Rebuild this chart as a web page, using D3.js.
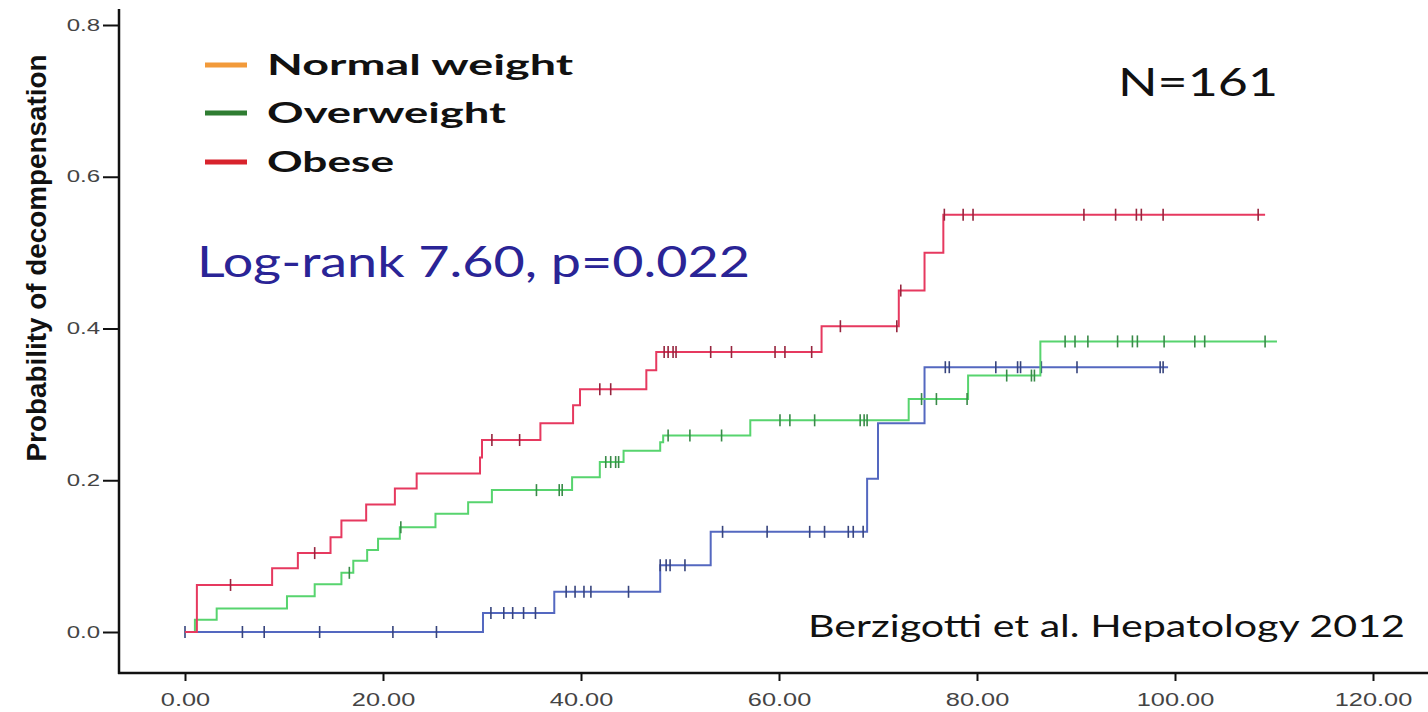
<!DOCTYPE html>
<html>
<head>
<script src="https://d3js.org/d3.v7.min.js"></script>
<style>
  body { margin: 0; background: #fff; }
  svg { display: block; }
  .tick text { font-family: "Liberation Sans", Arial, sans-serif; fill: #444; }
  .anno { font-family: Lato, "Open Sans", sans-serif; }
</style>
</head>
<body>
<svg id="chart" width="1428" height="712"></svg>
<script>
// Normal weight (drawn blue in the plot)
const normalSteps = [[0, 0], [30.1, 0.025], [37.3, 0.053], [48.0, 0.088], [53.1, 0.132], [68.9, 0.202], [70.0, 0.275], [74.7, 0.349]];
const normalEnd = 99.3;
const normalCensor = [0, 5.8, 8.0, 13.6, 21.0, 25.4, 30.9, 32.2, 33.1, 34.2, 35.4, 38.5, 39.4, 40.3, 41.0, 44.8, 48.0, 48.6, 49.0, 50.5,
  54.3, 58.8, 63.1, 64.6, 67.0, 67.5, 68.5, 76.8, 77.2, 81.9, 84.1, 84.4, 86.5, 90.1, 98.5, 98.8];

// Overweight (drawn light green)
const overSteps = [[0, 0], [1.0, 0.016], [3.2, 0.031], [10.3, 0.047], [13.1, 0.063], [15.8, 0.078], [17.0, 0.094], [18.4, 0.108],
  [19.5, 0.123], [21.7, 0.138], [25.3, 0.156], [28.6, 0.171], [31.0, 0.187], [39.1, 0.204], [41.9, 0.224], [44.3, 0.239],
  [48.0, 0.25], [48.3, 0.259], [57.1, 0.279], [73.1, 0.307], [79.1, 0.338], [86.4, 0.383]];
const overEnd = 110.3;
const overCensor = [16.6, 21.8, 35.5, 37.8, 38.1, 42.5, 43.0, 43.5, 43.8, 48.8, 51.0, 54.2, 60.1, 61.1, 63.6, 68.2, 68.6, 68.9,
  74.4, 75.9, 79.0, 83.0, 85.5, 85.8, 88.9, 89.9, 91.2, 94.2, 95.7, 96.2, 98.9, 102.0, 103.0, 109.1];

// Obese (drawn pink-red)
const obeseSteps = [[0, 0], [1.2, 0.062], [8.8, 0.084], [11.4, 0.104], [14.7, 0.125], [15.8, 0.147], [18.3, 0.168], [21.2, 0.189],
  [23.4, 0.209], [29.8, 0.23], [30.0, 0.253], [35.9, 0.275], [39.2, 0.299], [39.9, 0.320], [46.6, 0.345], [47.6, 0.369],
  [64.3, 0.403], [72.1, 0.45], [74.7, 0.50], [76.6, 0.55]];
const obeseEnd = 109.1;
const obeseCensor = [4.6, 13.1, 31.0, 33.8, 41.9, 43.0, 48.4, 48.8, 49.3, 49.6, 53.1, 55.2, 59.6, 60.6, 63.3, 66.2, 71.9, 72.3,
  76.7, 78.6, 79.6, 90.8, 94.0, 96.1, 96.6, 98.8, 108.4];

const xTicks = [0, 20, 40, 60, 80, 100, 120];
const yTicks = [0, 0.2, 0.4, 0.6, 0.8];
const legendLabels = ['Normal weight', 'Overweight', 'Obese'];
const legendColors = ['#f29a3a', '#2f7d32', '#d8232c'];

const svg = d3.select('#chart');
const x = d3.scaleLinear().domain([0, 120]).range([185, 1373]);
const y = d3.scaleLinear().domain([0, 0.8]).range([632, 25]);

const groups = [
  { steps: normalSteps, end: normalEnd, censor: normalCensor, color: '#5468c0' },
  { steps: overSteps, end: overEnd, censor: overCensor, color: '#57d46e' },
  { steps: obeseSteps, end: obeseEnd, censor: obeseCensor, color: '#e6395f' }
];

function valueAt(steps, t) {
  let v = 0;
  for (const s of steps) if (s[0] <= t) v = s[1];
  return v;
}

// the original picture is stretched sideways, so widen text to match
function widen(sel, factor) {
  sel.each(function () {
    const w = this.getComputedTextLength();
    d3.select(this).attr('textLength', w * factor).attr('lengthAdjust', 'spacingAndGlyphs');
  });
}
function fitWidth(sel, width) {
  sel.attr('textLength', width).attr('lengthAdjust', 'spacingAndGlyphs');
}

// axes
const yAxis = svg.append('g').attr('transform', 'translate(119,0)')
  .call(d3.axisLeft(y).tickValues(yTicks).tickFormat(d3.format('.1f')).tickSize(16).tickPadding(3).tickSizeOuter(0));
yAxis.select('.domain').remove();
yAxis.selectAll('.tick line').attr('stroke', '#111').attr('stroke-width', 2);
yAxis.selectAll('.tick text').style('font-size', '16px').call(widen, 1.5);

const xAxis = svg.append('g').attr('transform', 'translate(0,673)')
  .call(d3.axisBottom(x).tickValues(xTicks).tickFormat(d3.format('.2f')).tickSize(8).tickPadding(12).tickSizeOuter(0));
xAxis.select('.domain').remove();
xAxis.selectAll('.tick line').attr('stroke', '#111').attr('stroke-width', 2);
xAxis.selectAll('.tick text').style('font-size', '18.5px').call(widen, 1.37);

svg.append('line').attr('x1', 119).attr('x2', 119).attr('y1', 9).attr('y2', 674)
  .attr('stroke', '#111').attr('stroke-width', 2.5);
svg.append('line').attr('x1', 118).attr('x2', 1428).attr('y1', 673).attr('y2', 673)
  .attr('stroke', '#111').attr('stroke-width', 2.5);

svg.append('text')
  .attr('transform', 'translate(46,258) rotate(-90)')
  .attr('text-anchor', 'middle')
  .style('font-family', '"Liberation Sans Narrow", "Liberation Sans", Arial, sans-serif')
  .style('font-weight', 'bold')
  .style('font-size', '27px')
  .attr('fill', '#111')
  .text('Probability of decompensation')
  .call(fitWidth, 407);

// survival step curves
groups.forEach(g => {
  const pts = g.steps.concat([[g.end, g.steps[g.steps.length - 1][1]]]);
  const line = d3.line().x(d => x(d[0])).y(d => y(d[1])).curve(d3.curveStepAfter);
  svg.append('path').datum(pts)
    .attr('fill', 'none')
    .attr('stroke', g.color)
    .attr('stroke-width', 2)
    .attr('d', line);

  svg.selectAll(null).data(g.censor).join('line')
    .attr('x1', d => x(d)).attr('x2', d => x(d))
    .attr('y1', d => y(valueAt(g.steps, d)) - 6)
    .attr('y2', d => y(valueAt(g.steps, d)) + 6)
    .attr('stroke', d3.color(g.color).darker(1.2))
    .attr('stroke-width', 1.6);
});

// legend
const legendWidths = [306, 239, 127];
const legendBase = [75, 123, 172];
const legend = svg.append('g');
legendLabels.forEach((lab, i) => {
  const ly = legendBase[i] - 10;
  legend.append('line').attr('x1', 205).attr('x2', 247).attr('y1', ly).attr('y2', ly)
    .attr('stroke', legendColors[i]).attr('stroke-width', 5);
  legend.append('text').attr('class', 'anno').attr('x', 267).attr('y', legendBase[i])
    .style('font-size', '29px').style('font-weight', 'bold').attr('fill', '#111').text(lab)
    .call(fitWidth, legendWidths[i]);
});

svg.append('text').attr('class', 'anno').attr('x', 1118).attr('y', 96)
  .style('font-size', '38px').attr('fill', '#111').text('N=161')
  .call(fitWidth, 160);

svg.append('text').attr('class', 'anno').attr('x', 197).attr('y', 277)
  .style('font-size', '42px').attr('fill', '#2a2496').text('Log-rank 7.60, p=0.022')
  .call(fitWidth, 553);

svg.append('text').attr('class', 'anno').attr('x', 808).attr('y', 637)
  .style('font-size', '30px').attr('fill', '#111').text('Berzigotti et al. Hepatology 2012')
  .call(fitWidth, 597);
</script>
</body>
</html>
